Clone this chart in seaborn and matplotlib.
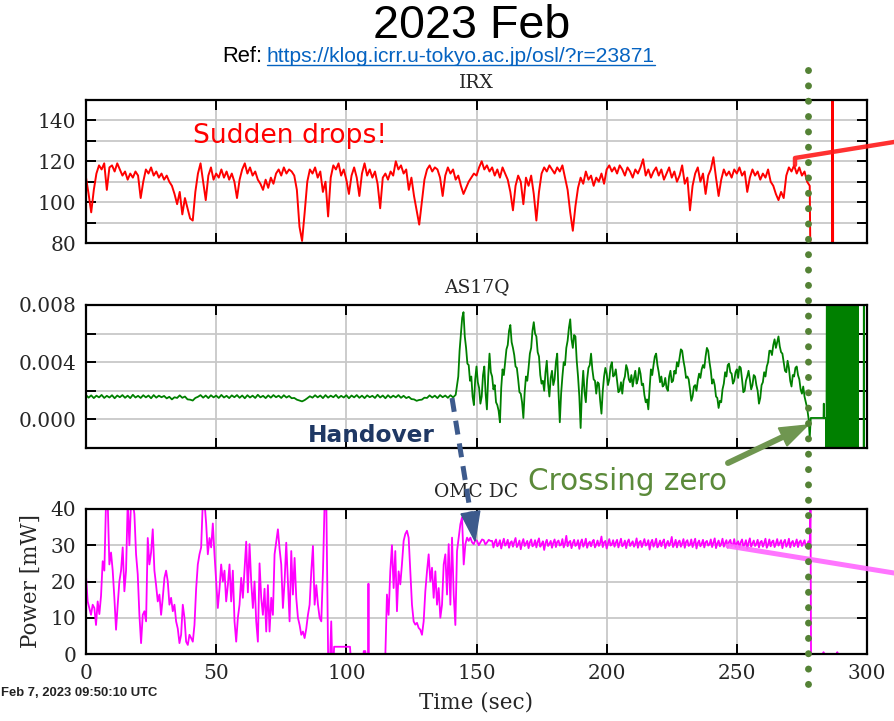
import numpy as np
import pandas as pd
import matplotlib
matplotlib.use("Agg")
import matplotlib.pyplot as plt
from matplotlib.lines import Line2D
from matplotlib.patches import Polygon
from matplotlib.ticker import MultipleLocator, FixedLocator, FixedFormatter
import seaborn as sns

# ---------------- IRX : 1 s samples from t = 0 s ----------------
irx_vals = [
    112, 104, 95, 106, 114, 118, 116, 119, 106, 117,
    118, 115, 119, 116, 113, 115, 111, 114, 112, 115,
    113, 102, 110, 116, 114, 117, 113, 115, 112, 114,
    111, 113, 110, 108, 104, 99, 105, 94, 102, 97,
    92, 91, 105, 114, 119, 110, 101, 113, 117, 111,
    114, 112, 116, 112, 115, 111, 114, 110, 102, 111,
    116, 119, 114, 117, 113, 115, 111, 109, 106, 111,
    107, 112, 109, 114, 116, 113, 117, 114, 116, 115,
    113, 106, 88, 81, 95, 110, 116, 114, 117, 112,
    115, 105, 110, 93, 112, 118, 116, 119, 113, 116,
    111, 104, 113, 117, 112, 103, 114, 119, 113, 116,
    112, 115, 109, 97, 112, 114, 111, 115, 113, 120,
    116, 118, 114, 116, 106, 112, 103, 96, 89, 100,
    111, 116, 118, 115, 117, 116, 112, 103, 113, 117,
    114, 116, 111, 113, 108, 104, 107, 110, 112, 114,
    113, 117, 120, 116, 118, 115, 117, 113, 116, 112,
    117, 114, 111, 105, 96, 108, 113, 110, 99, 112,
    108, 113, 104, 91, 105, 114, 117, 115, 118, 116,
    114, 117, 115, 118, 112, 106, 95, 86, 98, 107,
    112, 109, 115, 111, 113, 108, 112, 110, 114, 109,
    116, 118, 115, 117, 114, 118, 116, 113, 117, 115,
    112, 116, 114, 117, 121, 113, 116, 112, 115, 117,
    113, 116, 111, 114, 117, 112, 115, 110, 113, 118,
    109, 112, 96, 108, 114, 117, 110, 114, 104, 113,
    116, 122, 112, 103, 111, 116, 113, 115, 112, 116,
    114, 117, 113, 115, 105, 112, 116, 113, 115, 111,
    114, 112, 116, 110, 108, 104, 101, 105, 102, 113,
    117, 115, 118, 114, 117, 113, 115, 110, 108,
]
irx_tail_t = [278.5, 286.6, 286.7, 286.8, 286.9, 287.0, 300.0]
irx_tail_v = [40, 40, 200, 40, 200, 40, 40]

# ---------------- AS17Q ----------------
# quiet stretch, 1 s samples from t = 0 s
as_quiet = [
    0.00170, 0.00152, 0.00168, 0.00149, 0.00166, 0.00154, 0.00171, 0.00150, 0.00165, 0.00153,
    0.00169, 0.00148, 0.00167, 0.00155, 0.00170, 0.00151, 0.00166, 0.00149, 0.00172, 0.00153,
    0.00165, 0.00150, 0.00169, 0.00154, 0.00167, 0.00148, 0.00170, 0.00152, 0.00166, 0.00155,
    0.00164, 0.00147, 0.00158, 0.00140, 0.00155, 0.00150, 0.00168, 0.00151, 0.00160, 0.00140,
    0.00138, 0.00132, 0.00150, 0.00158, 0.00170, 0.00152, 0.00167, 0.00149, 0.00169, 0.00154,
    0.00166, 0.00150, 0.00171, 0.00153, 0.00165, 0.00149, 0.00168, 0.00155, 0.00170, 0.00151,
    0.00167, 0.00148, 0.00169, 0.00153, 0.00166, 0.00150, 0.00172, 0.00154, 0.00165, 0.00149,
    0.00168, 0.00152, 0.00170, 0.00155, 0.00166, 0.00150, 0.00169, 0.00153, 0.00164, 0.00148,
    0.00150, 0.00138, 0.00132, 0.00126, 0.00135, 0.00148, 0.00162, 0.00152, 0.00169, 0.00154,
    0.00167, 0.00149, 0.00170, 0.00152, 0.00166, 0.00155, 0.00171, 0.00150, 0.00165, 0.00153,
    0.00169, 0.00148, 0.00167, 0.00154, 0.00170, 0.00151, 0.00166, 0.00149, 0.00168, 0.00155,
    0.00165, 0.00150, 0.00172, 0.00153, 0.00167, 0.00148, 0.00169, 0.00152, 0.00166, 0.00154,
    0.00170, 0.00151, 0.00165, 0.00149, 0.00158, 0.00142, 0.00140, 0.00130, 0.00136, 0.00138,
    0.00152, 0.00150, 0.00168, 0.00153, 0.00166, 0.00149, 0.00170, 0.00155, 0.00167, 0.00151,
    0.00169, 0.00154, 0.00172,
]
# after the handover, 0.5 s samples from t = 143 s
as_locked = [
    0.0030, 0.0048, 0.0060, 0.0071, 0.0075, 0.0058, 0.0050, 0.0039, 0.0038, 0.0027,
    0.0030, 0.0016, 0.0010, 0.0028, 0.0037, 0.0026, 0.0022, 0.0011, 0.0016, 0.0031,
    0.0037, 0.0018, 0.0007, 0.0030, 0.0046, 0.0033, 0.0030, 0.0021, 0.0024, 0.0012,
    0.0010, 0.0006, -0.0002, 0.0022, 0.0035, 0.0031, 0.0040, 0.0049, 0.0052, 0.0062,
    0.0066, 0.0054, 0.0050, 0.0045, 0.0037, 0.0036, 0.0028, 0.0019, 0.0018, 0.0012,
    0.0001, 0.0019, 0.0030, 0.0027, 0.0036, 0.0046, 0.0050, 0.0062, 0.0068, 0.0060,
    0.0058, 0.0047, 0.0044, 0.0031, 0.0025, 0.0027, 0.0020, 0.0033, 0.0041, 0.0025,
    0.0016, 0.0029, 0.0034, 0.0024, 0.0028, 0.0040, 0.0046, 0.0019, -0.0002, 0.0018,
    0.0030, 0.0040, 0.0038, 0.0050, 0.0055, 0.0064, 0.0070, 0.0056, 0.0050, 0.0059,
    0.0058, 0.0041, 0.0030, 0.0016, -0.0006, 0.0020, 0.0034, 0.0019, 0.0012, 0.0028,
    0.0036, 0.0038, 0.0046, 0.0035, 0.0028, 0.0027, 0.0018, 0.0026, 0.0025, 0.0013,
    0.0004, 0.0020, 0.0030, 0.0036, 0.0032, 0.0024, 0.0028, 0.0037, 0.0040, 0.0030,
    0.0031, 0.0035, 0.0027, 0.0019, 0.0020, 0.0026, 0.0018, 0.0027, 0.0030, 0.0038,
    0.0035, 0.0028, 0.0026, 0.0031, 0.0023, 0.0029, 0.0034, 0.0025, 0.0028, 0.0036,
    0.0032, 0.0024, 0.0025, 0.0017, 0.0012, 0.0014, 0.0007, 0.0022, 0.0035, 0.0031,
    0.0038, 0.0044, 0.0046, 0.0038, 0.0033, 0.0026, 0.0030, 0.0023, 0.0024, 0.0029,
    0.0022, 0.0020, 0.0030, 0.0034, 0.0026, 0.0027, 0.0034, 0.0032, 0.0040, 0.0037,
    0.0043, 0.0049, 0.0048, 0.0041, 0.0036, 0.0029, 0.0030, 0.0028, 0.0021, 0.0013,
    0.0016, 0.0023, 0.0024, 0.0020, 0.0027, 0.0032, 0.0029, 0.0035, 0.0038, 0.0036,
    0.0044, 0.0050, 0.0048, 0.0040, 0.0034, 0.0025, 0.0028, 0.0024, 0.0016, 0.0015,
    0.0008, 0.0013, 0.0012, 0.0021, 0.0025, 0.0033, 0.0030, 0.0038, 0.0039, 0.0033,
    0.0032, 0.0025, 0.0027, 0.0033, 0.0035, 0.0029, 0.0037, 0.0036, 0.0028, 0.0019,
    0.0020, 0.0027, 0.0030, 0.0034, 0.0028, 0.0021, 0.0024, 0.0031, 0.0030, 0.0024,
    0.0020, 0.0011, 0.0015, 0.0024, 0.0026, 0.0033, 0.0030, 0.0037, 0.0040, 0.0048,
    0.0048, 0.0045, 0.0052, 0.0056, 0.0050, 0.0054, 0.0058, 0.0051, 0.0047, 0.0046,
    0.0040, 0.0034, 0.0033, 0.0041, 0.0036, 0.0027, 0.0023, 0.0031, 0.0030, 0.0036,
    0.0037, 0.0031, 0.0028, 0.0021, 0.0018, 0.0023, 0.0016, 0.0012, 0.0008,
]
as_drop_t = [277.6, 278.0, 278.4, 283.3, 283.4, 283.5, 284.3]
as_drop_v = [0.0000, -0.0013, 0.0001, 0.0001, 0.0011, 0.0001, 0.0001]
# unlocked oscillation, 0.2 s samples from t = 284.4 s
as_wild = [
    -0.004, 0.012, -0.004, 0.012, -0.004, 0.012, -0.004, -0.004, -0.004, 0.012,
    -0.004, 0.012, -0.004, 0.012, -0.004, 0.012, -0.004, 0.012, -0.004, -0.004,
    0.012, -0.004, 0.012, -0.004, 0.012, -0.004, 0.012, -0.004, 0.012, -0.004,
    0.012, -0.004, 0.012, -0.004, 0.012, -0.004, 0.012, -0.004, 0.012, -0.004,
    0.012, -0.004, 0.012, -0.004, -0.004, -0.004, 0.012, -0.004, 0.012, -0.004,
    0.012, -0.004, 0.012, -0.004, 0.012, -0.004, 0.012, -0.004, 0.012, -0.004,
    0.012, -0.004,
]
as_end_t = [296.8, 298.7, 298.8, 298.9, 300.0]
as_end_v = [-0.004, -0.004, 0.012, -0.004, -0.004]

# ---------------- OMC DC power [mW] ----------------
# 0.641 s samples from t = 0 s
omc_early = [
    21.5, 14.5, 12.7, 10.8, 13.6, 12.7, 8.0, 14.5, 11.0, 16.0,
    25.6, 23.0, 42.0, 42.0, 24.7, 28.0, 23.0, 15.5, 6.7, 13.6,
    20.0, 23.0, 29.4, 17.3, 23.0, 42.0, 30.0, 42.0, 42.0, 38.6,
    27.5, 22.0, 10.8, 3.0, 10.8, 11.8, 9.0, 32.0, 24.7, 28.0,
    34.4, 23.0, 19.0, 14.5, 16.4, 10.8, 15.5, 21.0, 23.0, 20.0,
    13.6, 15.5, 11.8, 13.6, 9.0, 7.0, 3.0, 5.3, 13.6, 10.0,
    3.4, 2.5, 5.3, 4.4, 3.4, 8.0, 18.0, 24.7, 27.5, 29.4,
    42.0, 42.0, 36.0, 27.5, 32.0, 29.4, 36.0, 27.5, 20.0, 12.7,
    18.0, 24.7, 20.0, 23.0, 14.5, 19.0, 24.7, 14.5, 23.0, 9.0,
    3.4, 10.0, 13.6, 21.0, 15.5, 23.0, 31.0, 17.0, 30.3, 20.0,
    12.7, 20.0, 9.0, 3.4, 25.0, 15.5, 10.8, 18.0, 6.2, 19.0,
    6.2, 15.5, 10.8, 27.5, 31.0, 34.4, 29.0, 24.7, 12.7, 20.0,
    30.7, 20.0, 9.0, 28.4, 16.4, 26.5, 15.5, 10.0, 8.0, 5.3,
    6.2, 4.4, 7.0, 10.8, 13.6, 22.8, 29.8, 13.6, 19.0, 13.6,
    10.0, 9.0, 22.8, 42.0, 42.0,
]
omc_gap_t = [93.0, 93.8, 94.2, 94.5, 95.2, 95.3, 101.4, 101.6, 106.6, 106.7,
             107.3, 107.4, 108.4, 108.5, 108.6, 115.0]
omc_gap_v = [0.0, 0.0, 9.0, 0.0, 0.0, 2.0, 2.0, 0.0, 0.0, 0.8,
             0.8, 0.0, 0.0, 19.4, 0.0, 0.0]
# 0.641 s samples from t = 115.6 s
omc_ramp = [
    16.4, 10.8, 22.8, 30.0, 18.2, 28.4, 11.8, 22.8, 19.2, 24.8,
    31.2, 33.1, 34.0, 32.1, 22.8, 13.6, 9.0, 8.1, 8.6, 7.2,
    6.7, 5.3, 9.0, 17.3, 22.8, 27.5, 20.0, 23.8, 15.5, 22.8,
    13.6, 18.2, 10.0, 13.6, 24.7, 27.5, 16.4, 30.3, 13.6, 32.1,
    16.4, 8.0, 28.4, 32.1, 35.8, 37.7, 24.7, 30.3, 32.1, 31.2,
    32.1, 30.8, 30.3, 31.5, 31.2, 30.0, 30.8, 31.6, 31.4, 30.2,
    30.8, 31.5, 31.2,
]
# 0.5 s samples from t = 156 s
omc_locked = [
    31.2, 29.4, 30.8, 31.6, 29.7, 30.3, 31.4, 29.1, 30.6, 31.8, 29.9, 30.4,
    31.5, 29.3, 30.7, 31.1, 29.6, 30.9, 32.0, 29.5, 30.2, 31.3, 28.9, 30.6,
    31.7, 29.8, 30.5, 31.2, 29.2, 30.8, 31.6, 29.7, 30.1, 31.4, 29.4, 30.9,
    31.9, 29.6, 30.3, 31.1, 28.7, 30.6, 31.5, 29.8, 30.4, 31.2, 29.3, 30.7,
    31.6, 29.5, 30.9, 31.3, 29.9, 30.2, 31.7, 29.4, 30.5, 32.6, 29.7, 30.8,
    31.2, 29.2, 30.6, 31.5, 29.8, 30.3, 31.4, 29.0, 30.7, 31.6, 29.6, 30.4,
    31.8, 29.3, 30.5, 31.0, 29.7, 30.9, 31.5, 29.4, 30.2, 31.3, 29.8, 30.6,
    32.4, 29.5, 30.8, 31.2, 29.1, 30.4, 31.7, 29.9, 30.3, 31.4, 29.6, 30.7,
    31.5, 29.4, 30.6, 31.8, 29.7, 30.2, 31.3, 29.2, 30.9, 31.6, 29.8, 30.5,
    31.1, 29.6, 30.4, 31.9, 29.3, 30.8, 31.2, 29.5, 30.6, 31.7, 29.9, 30.3,
    31.4, 28.8, 30.7, 31.5, 29.6, 30.5, 31.8, 29.4, 30.2, 31.3, 29.7, 30.9,
    31.6, 29.2, 30.4, 31.2, 29.8, 30.6, 32.3, 29.5, 30.3, 31.5, 29.4, 30.8,
    31.3, 29.6, 30.5, 31.7, 29.3, 30.9, 31.4, 29.8, 30.2, 31.6, 29.5, 30.7,
    31.8, 29.1, 30.6, 31.3, 29.7, 30.4, 31.5, 29.4, 30.8, 31.2, 29.9, 30.3,
    31.6, 29.5, 30.7, 31.9, 29.2, 30.5, 31.3, 29.7, 30.4, 31.8, 29.6, 30.6,
    31.4, 29.3, 30.9, 31.5, 29.8, 30.2, 31.7, 29.5, 30.6, 31.1, 29.4, 30.8,
    31.6, 29.7, 30.3, 31.4, 29.0, 30.7, 31.9, 29.6, 30.5, 31.3, 29.8, 30.4,
    31.5, 29.4, 30.8, 31.2, 29.6, 30.6, 31.8, 29.3, 30.2, 31.6, 29.7, 30.9,
    31.3, 29.5, 30.4, 31.7, 29.9, 30.6, 31.4, 29.2, 30.8, 31.5, 29.6, 30.3,
    31.8, 29.4, 30.7, 31.2, 29.7, 30.5, 31.6, 29.5, 30.9, 31.3, 29.8, 30.6,
    31.4, 29.6, 30.2, 31.1,
]
omc_tail_t = [278.0, 278.3, 278.5, 283.0, 283.3, 283.6, 288.3, 288.6, 288.9, 300.0]
omc_tail_v = [30.5, 41.0, 0.0, 0.0, 0.5, 0.0, 0.0, 0.5, 0.0, 0.0]

# ---------------- assemble time series ----------------
irx = pd.DataFrame({
    "t": np.concatenate([np.arange(len(irx_vals)) * 1.0, irx_tail_t]),
    "v": np.concatenate([irx_vals, irx_tail_v]),
})
as17q = pd.DataFrame({
    "t": np.concatenate([np.arange(len(as_quiet)) * 1.0,
                         143 + np.arange(len(as_locked)) * 0.5,
                         as_drop_t,
                         284.4 + np.arange(len(as_wild)) * 0.2,
                         as_end_t]),
    "v": np.concatenate([as_quiet, as_locked, as_drop_v, as_wild, as_end_v]),
})
omc = pd.DataFrame({
    "t": np.concatenate([np.arange(len(omc_early)) * 0.641,
                         omc_gap_t,
                         115.6 + np.arange(len(omc_ramp)) * 0.641,
                         156 + np.arange(len(omc_locked)) * 0.5,
                         omc_tail_t]),
    "v": np.concatenate([omc_early, omc_gap_v, omc_ramp, omc_locked, omc_tail_v]),
})

# ---------------- figure ----------------
sns.set_theme(style="ticks")
plt.rcParams["font.family"] = ["DejaVu Serif"]
NARROW = ["Liberation Sans Narrow", "Liberation Sans", "DejaVu Sans"]

W, H = 894, 721
fig = plt.figure(figsize=(W / 100, H / 100), dpi=100)
fig.patch.set_facecolor("white")


def fx(x):
    return x / W


def fy(y):
    return 1 - y / H


LEFT, RIGHT = 86, 867
panel_rows = [(100, 243), (305, 448), (509, 654)]
axes = [fig.add_axes([fx(LEFT), fy(b), (RIGHT - LEFT) / W, (b - t) / H]) for t, b in panel_rows]

series = [(irx, "#ff0000", 1.4), (as17q, "#008000", 1.3), (omc, "#ff00ff", 1.3)]
for ax, (df, col, lw) in zip(axes, series):
    sns.lineplot(data=df, x="t", y="v", ax=ax, color=col, lw=lw,
                 estimator=None, sort=False, legend=False)
    ax.set_xlabel("")
    ax.set_ylabel("")
    ax.set_facecolor("white")
    ax.set_xlim(0, 300)
    ax.xaxis.set_major_locator(MultipleLocator(50))
    ax.set_axisbelow(True)
    ax.grid(True, which="both", color="#c8c8c8", lw=1.3)
    ax.tick_params(which="both", direction="in", top=True, right=True,
                   length=7, width=1.4, labelsize=14.5, pad=7, color="black")
    for s in ax.spines.values():
        s.set_linewidth(1.6)
        s.set_color("black")

# IRX panel
ax = axes[0]
ax.set_ylim(80, 150)
ax.yaxis.set_major_locator(MultipleLocator(20))
ax.yaxis.set_minor_locator(MultipleLocator(10))
ax.tick_params(labelbottom=False)
ax.set_title("IRX", fontsize=13.5, pad=9)

# AS17Q panel
ax = axes[1]
ax.set_ylim(-0.002, 0.008)
ax.yaxis.set_major_locator(FixedLocator([0.0, 0.004, 0.008]))
ax.yaxis.set_major_formatter(FixedFormatter(["0.000", "0.004", "0.008"]))
ax.yaxis.set_minor_locator(FixedLocator([0.002, 0.006]))
ax.tick_params(labelbottom=False)
ax.set_title("AS17Q", fontsize=13.5, pad=9)

# OMC DC panel
ax = axes[2]
ax.set_ylim(0, 40)
ax.yaxis.set_major_locator(MultipleLocator(10))
ax.set_title("OMC DC", fontsize=13.5, pad=8.5)
ax.set_xlabel("Time (sec)", fontsize=15.5, va="center")
ax.xaxis.set_label_coords(0.5, -(703 - 654) / 145)
ax.set_ylabel("Power [mW]", fontsize=15.5, va="center")
ax.yaxis.set_label_coords((31 - LEFT) / (RIGHT - LEFT), 0.5)

renderer = fig.canvas.get_renderer()


def fit_width(txt, target_px):
    w = txt.get_window_extent(renderer).width
    txt.set_fontsize(txt.get_fontsize() * target_px / w)


# headings
title = fig.text(fx(472), fy(38), "2023 Feb", family=["Liberation Sans", "DejaVu Sans"],
                 fontsize=34, ha="center", va="baseline", color="black")
fit_width(title, 197)

url = fig.text(fx(267), fy(62.5), "https://klog.icrr.u-tokyo.ac.jp/osl/?r=23871",
               family=NARROW, fontsize=14, ha="left", va="baseline", color="#0563c1")
fit_width(url, 391)
ref = fig.text(fx(262), fy(62.5), "Ref:", family=NARROW, fontsize=url.get_fontsize() * 1.05,
               ha="right", va="baseline", color="black")
ubb = url.get_window_extent(renderer)
fig.add_artist(Line2D([ubb.x0 / W, ubb.x1 / W], [fy(65), fy(65)],
                      transform=fig.transFigure, color="#0563c1", lw=1.0))

stamp = fig.text(fx(1), fy(693), "Feb 7, 2023 09:50:10 UTC", family=NARROW,
                 fontweight="bold", fontsize=10, ha="left", va="center", color="#222222")
fit_width(stamp, 157)

# callouts
sudden = fig.text(fx(290), fy(136), "Sudden drops!", family="DejaVu Sans",
                  fontsize=18, ha="center", va="center", color="#ff0000")
fit_width(sudden, 195)
handover = fig.text(fx(371), fy(436), "Handover", family="DejaVu Sans", fontweight="bold",
                    fontsize=18, ha="center", va="center", color="#1f3864")
fit_width(handover, 127)
crossing = fig.text(fx(627), fy(481), "Crossing zero", family="DejaVu Sans",
                    fontsize=18, ha="center", va="center", color="#5b8a3a")
fit_width(crossing, 200)

# pointer strokes leaving the right edge
fig.add_artist(Line2D([fx(795), fx(795), fx(894)], [fy(165), fy(158), fy(142)],
                      transform=fig.transFigure, color="#ff1a1a", lw=3.2, alpha=0.9))
fig.add_artist(Line2D([fx(728), fx(894)], [fy(546), fy(573)],
                      transform=fig.transFigure, color="#ff66ff", lw=3.6, alpha=0.9))

# handover arrow (dashed shaft, solid head)
fig.add_artist(Line2D([fx(452), fx(470.4)], [fy(398), fy(512.4)],
                      transform=fig.transFigure, color="#3d5a8c", lw=3.6,
                      linestyle=(0, (2.8, 1.8))))
fig.add_artist(Polygon([[fx(475), fy(541)], [fx(479.8), fy(510.9)], [fx(461.0), fy(513.9)]],
                       closed=True, transform=fig.transFigure, color="#3d5a8c"))

# crossing-zero arrow
fig.add_artist(Line2D([fx(728), fx(782.7)], [fy(463), fy(437.0)],
                      transform=fig.transFigure, color="#6f9650", lw=4.3))
fig.add_artist(Polygon([[fx(808), fy(425)], [fx(787.0), fy(446.0)], [fx(778.4), fy(428.0)]],
                       closed=True, transform=fig.transFigure, color="#6f9650"))

# moment of the lock loss
fig.add_artist(Line2D([fx(808), fx(808)], [fy(70), fy(690)], transform=fig.transFigure,
                      color="#548235", lw=5, linestyle=(0, (0.01, 2.2)),
                      dash_capstyle="round"))

fig.savefig("out.png", dpi=100, facecolor="white")
